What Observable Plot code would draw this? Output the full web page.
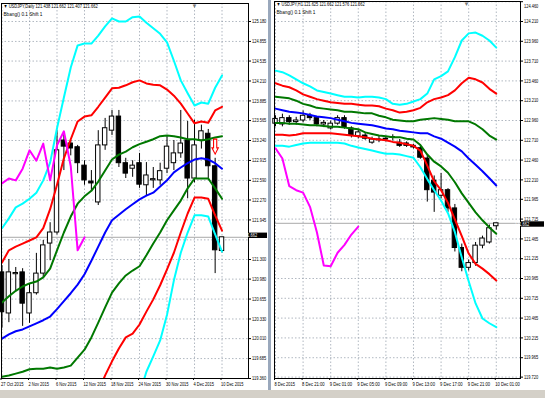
<!DOCTYPE html>
<html><head><meta charset="utf-8">
<script src="https://cdn.jsdelivr.net/npm/d3@7"></script>
<script src="https://cdn.jsdelivr.net/npm/@observablehq/plot@0.6"></script>
<style>
body{margin:0;background:#d4d0c8;}
#wrap{position:relative;width:545px;height:398px;overflow:hidden;background:#d4d0c8;}
#left{position:absolute;left:0;top:0;}
#right{position:absolute;left:271px;top:0;}
#sep{position:absolute;left:268px;top:0;width:3px;height:390px;background:#9aa8bc;}
svg{display:block;}
</style></head><body>
<div id="wrap"><div id="left"></div><div id="sep"></div><div id="right"></div></div>
<script>
// ---------------- DAILY (left) ----------------
const dHeader = "▼ USDJPY,Daily 121.438 121.662 121.407 121.662";
const dSub = "Bbang() 0.1 Shift 1";
const dDateIdx = [0,4,8,12,16,20,24,28,32];
const dDateLabels = ["27 Oct 2015","2 Nov 2015","6 Nov 2015","12 Nov 2015","18 Nov 2015","24 Nov 2015","30 Nov 2015","4 Dec 2015","10 Dec 2015"];
const dTicks = [125.180,124.855,124.535,124.210,123.885,123.565,123.240,122.915,122.590,122.270,121.945,121.620,121.300,120.980,120.655,120.330,120.010,119.685,119.360];
const dHiddenLabels = [121.620];
const dOpen  = [121.09,120.42,121.06,121.09,120.42,120.75,121.07,121.56,121.74,123.24,123.19,123.13,122.83,122.57,122.23,123.16,123.40,123.63,122.87,122.78,122.87,122.51,122.59,122.59,122.78,122.87,123.03,123.24,122.62,123.24,123.35,122.82,121.438];
const dHigh  = [121.20,121.30,121.17,121.15,120.91,121.40,121.61,121.90,123.40,123.37,123.24,123.16,122.91,122.75,123.40,123.60,123.73,123.73,122.95,122.91,123.03,122.88,122.80,122.87,123.30,123.24,123.73,123.55,123.57,123.49,123.42,122.95,121.662];
const dLow   = [120.18,120.27,120.79,120.21,120.26,120.72,121.00,121.28,121.70,122.75,122.99,122.70,122.51,122.42,122.18,123.08,123.32,122.80,122.62,122.64,122.46,122.34,122.46,122.51,122.70,122.75,122.95,122.29,122.55,123.10,122.60,121.07,121.407];
const dClose = [120.44,121.09,121.08,120.58,120.75,121.07,121.53,121.74,123.08,123.14,123.11,122.87,122.59,122.54,123.16,123.44,123.63,122.87,122.70,122.83,122.52,122.67,122.61,122.74,123.14,123.03,123.19,122.62,123.16,123.39,122.82,121.45,121.662];
const dUp3 = [121.81,121.97,122.15,122.21,122.29,122.39,122.59,122.88,123.44,123.94,124.43,124.79,124.82,124.82,124.95,125.10,125.23,125.18,125.18,125.25,125.26,125.16,125.07,124.98,124.84,124.54,124.22,124.01,123.81,123.86,123.84,124.10,124.30];
const dUp2 = [121.25,121.45,121.51,121.56,121.61,121.66,121.81,122.12,122.52,122.95,123.26,123.55,123.63,123.65,123.79,123.94,124.09,124.10,124.14,124.19,124.22,124.17,124.15,124.14,124.07,123.97,123.84,123.68,123.52,123.55,123.53,123.73,123.79];
const dUp1 = [120.60,120.70,120.79,120.86,120.91,120.94,121.01,121.15,121.45,121.74,122.00,122.21,122.33,122.42,122.57,122.75,122.93,123.01,123.06,123.13,123.18,123.22,123.26,123.31,123.32,123.31,123.29,123.26,123.26,123.24,123.26,123.29,123.31];
const dMid = [120.01,120.08,120.13,120.16,120.21,120.26,120.31,120.37,120.49,120.62,120.75,120.89,121.06,121.28,121.51,121.74,121.94,122.03,122.12,122.20,122.28,122.34,122.39,122.49,122.59,122.72,122.80,122.87,122.93,122.95,122.93,122.87,122.78];
const dLo1 = [119.39,119.41,119.44,119.47,119.51,119.52,119.52,119.54,119.52,119.54,119.57,119.70,119.83,120.03,120.27,120.52,120.76,120.91,121.04,121.12,121.19,121.37,121.56,121.74,121.94,122.10,122.26,122.46,122.62,122.62,122.62,122.46,122.29];
const dLo2 = [null,null,null,null,null,null,null,null,null,null,null,null,null,null,119.15,119.41,119.64,119.85,120.03,120.09,120.24,120.45,120.65,120.88,121.14,121.41,121.74,122.05,122.31,122.31,122.29,122.02,121.77];
const dLo3 = [null,null,null,null,null,null,null,null,null,null,null,null,null,null,null,null,null,null,null,null,119.10,119.47,119.72,119.98,120.40,120.96,121.41,121.74,122.02,122.02,122.00,121.71,121.43];
const dLag = [122.54,122.62,122.59,122.78,123.08,122.91,123.19,122.59,123.16,123.39,122.82,121.45,121.66];
const dSignal = {i: 31, v: 123.14};

// ---------------- H1 (right) ----------------
const hHeader = "▼ USDJPY,H1 121.625 121.662 121.576 121.662";
const hSub = "Bbang() 0.1 Shift 1";
const hDateIdx = [0,4,8,12,16,20,24,28,32];
const hDateLabels = ["8 Dec 2015","8 Dec 21:00","9 Dec 01:00","9 Dec 05:00","9 Dec 09:00","9 Dec 13:00","9 Dec 17:00","9 Dec 21:00","10 Dec 01:00"];
const hTicks = [124.460,124.210,123.960,123.710,123.460,123.210,122.960,122.710,122.460,122.210,121.965,121.715,121.465,121.215,120.965,120.715,120.465,120.215,119.965,119.720];
const hHiddenLabels = [];
const hOpen  = [122.92,122.91,122.99,122.94,122.96,123.02,122.99,122.91,122.86,122.92,122.99,122.86,122.76,122.77,122.68,122.71,122.72,122.74,122.68,122.67,122.64,122.61,122.48,122.20,122.01,122.08,121.85,121.35,121.10,121.16,121.38,121.42,121.625];
const hHigh  = [123.02,123.04,123.02,123.00,123.08,123.05,123.01,122.96,122.95,123.02,123.02,122.88,122.84,122.81,122.75,122.76,122.75,122.78,122.72,122.69,122.66,122.64,122.52,122.26,122.29,122.10,121.90,121.40,121.20,121.42,121.50,121.64,121.662];
const hLow   = [122.88,122.88,122.90,122.90,122.93,122.96,122.88,122.87,122.84,122.90,122.85,122.74,122.73,122.71,122.66,122.68,122.69,122.70,122.62,122.62,122.60,122.47,121.93,121.80,121.97,121.80,121.30,121.05,121.06,121.12,121.34,121.40,121.576];
const hClose = [122.98,122.99,122.94,122.96,123.02,122.99,122.91,122.93,122.92,122.99,122.87,122.77,122.81,122.73,122.72,122.72,122.73,122.75,122.64,122.64,122.62,122.49,122.08,122.05,122.08,121.85,121.35,121.10,121.16,121.38,121.47,121.60,121.662];
const hUp3 = [123.59,123.57,123.53,123.48,123.43,123.39,123.34,123.32,123.30,123.28,123.26,123.26,123.25,123.26,123.26,123.25,123.23,123.17,123.16,123.17,123.20,123.23,123.30,123.48,123.52,123.58,123.76,123.97,124.06,124.07,124.03,123.97,123.88];
const hUp2 = [123.43,123.40,123.38,123.34,123.29,123.26,123.23,123.21,123.19,123.18,123.17,123.17,123.16,123.15,123.15,123.14,123.11,123.09,123.06,123.07,123.09,123.12,123.19,123.23,123.25,123.28,123.34,123.43,123.50,123.48,123.44,123.36,123.30];
const hUp1 = [123.26,123.25,123.24,123.21,123.17,123.15,123.12,123.11,123.10,123.09,123.07,123.07,123.06,123.05,123.05,123.02,123.00,122.97,122.96,122.95,122.95,122.97,122.98,122.99,122.98,122.97,122.95,122.95,122.95,122.91,122.85,122.77,122.72];
const hMid = [123.11,123.09,123.07,123.06,123.05,123.03,123.01,123.00,122.99,122.97,122.95,122.93,122.92,122.91,122.90,122.88,122.86,122.85,122.83,122.82,122.81,122.80,122.80,122.76,122.73,122.68,122.63,122.57,122.48,122.40,122.32,122.23,122.14];
const hLo1 = [122.93,122.93,122.92,122.92,122.91,122.90,122.90,122.89,122.88,122.88,122.87,122.86,122.85,122.81,122.79,122.77,122.76,122.75,122.75,122.73,122.72,122.65,122.53,122.44,122.38,122.30,122.18,122.04,121.92,121.80,121.70,121.61,121.53];
const hLo2 = [122.78,122.78,122.77,122.78,122.80,122.80,122.80,122.80,122.80,122.79,122.78,122.77,122.76,122.75,122.73,122.72,122.71,122.69,122.68,122.66,122.64,122.58,122.39,122.19,122.08,121.92,121.71,121.50,121.28,121.15,121.09,121.02,120.94];
const hLo3 = [122.64,122.64,122.63,122.65,122.67,122.68,122.68,122.68,122.68,122.68,122.67,122.64,122.62,122.60,122.58,122.56,122.54,122.54,122.53,122.51,122.49,122.37,122.22,122.08,121.95,121.79,121.55,121.23,120.93,120.65,120.46,120.40,120.35];
const hLag = [122.61,122.48,122.13,122.08,122.05,121.87,121.55,121.13,121.12,121.29,121.39,121.52,121.62];

// ---------------- drawing ----------------
const FONT = "Liberation Sans, Arial, sans-serif";
const FS = 5.3;        // font size of all small texts
const CHW = 2.05;      // condensed advance per character (px)
const C = {cyan:"#00ffff", red:"#ff0000", green:"#007800", blue:"#0000ff", mag:"#ff00ff", grid:"#8f9aa6"};

function series(arr){ return arr.map((v,i)=>({i, v})); }
function candles(o,h,l,c){ return o.map((_,i)=>({i, o:o[i], h:h[i], l:l[i], c:c[i]})); }

const arrowSymbol = {
  draw(ctx){
    ctx.moveTo(-1.6,-7.5); ctx.lineTo(1.6,-7.5); ctx.lineTo(1.6,1.2); ctx.lineTo(3.2,1.2);
    ctx.lineTo(0,7.5); ctx.lineTo(-3.2,1.2); ctx.lineTo(-1.6,1.2); ctx.closePath();
  }
};

function panel(cfg){
  const rows = candles(cfg.o, cfg.h, cfg.l, cfg.c);
  const bands = [
    [cfg.up3, C.cyan],[cfg.up2, C.red],[cfg.up1, C.green],[cfg.mid, C.blue],
    [cfg.lo1, C.green],[cfg.lo2, C.red],[cfg.lo3, C.cyan]
  ];
  const last = cfg.c[cfg.c.length-1];
  const labelTicks = cfg.ticks.filter(t => !cfg.hidden.includes(t));
  const marks = [
    Plot.ruleY(cfg.ticks, {stroke: C.grid, strokeWidth: 0.7, strokeDasharray: "1.5,2"}),
    Plot.ruleX(cfg.dateIdx, {stroke: C.grid, strokeWidth: 0.7, strokeDasharray: "1.5,2"}),
    Plot.ruleY([last], {stroke: "#a9a9a9", strokeWidth: 1}),
    Plot.ruleX(rows, {x: "i", y1: "l", y2: "h", stroke: "#000", strokeWidth: 1}),
    Plot.rect(rows, {x1: d => d.i - 0.32, x2: d => d.i + 0.32, y1: "o", y2: "c",
      fill: d => d.c >= d.o ? "#fff" : "#000", stroke: "#000", strokeWidth: 1}),
    ...bands.map(([arr, col]) => Plot.line(series(arr), {x: "i", y: "v", stroke: col, strokeWidth: 2, clip: true})),
    Plot.line(series(cfg.lag), {x: "i", y: "v", stroke: C.mag, strokeWidth: 2, clip: true}),
    Plot.text([cfg.header], {text: d => d, frameAnchor: "top-left", dx: 2, dy: 1, fontSize: FS, textAnchor: "start", lineAnchor: "top", fill: "#000"}),
    Plot.text([cfg.sub], {text: d => d, frameAnchor: "top-left", dx: 2, dy: 8.5, fontSize: FS, textAnchor: "start", lineAnchor: "top", fill: "#000"}),
    Plot.text(["▼"], {text: d => d, frameAnchor: "top-right", dx: -51, dy: 0, fontSize: 6, lineAnchor: "top", fill: "#7a7a7a"}),
    Plot.axisY({ticks: labelTicks, anchor: "right", tickSize: 2, tickPadding: 1.5, fontSize: FS, tickFormat: d => d.toFixed(3), label: null}),
    Plot.axisX({ticks: cfg.dateIdx, anchor: "bottom", tickSize: 2, tickPadding: 2, fontSize: FS, textAnchor: "start", dx: -1,
      tickFormat: d => cfg.dateLabels[cfg.dateIdx.indexOf(d)], label: null}),
    Plot.frame({stroke: "#000", strokeWidth: 1})
  ];
  if (cfg.signal) marks.push(Plot.dot([cfg.signal], {x: "i", y: "v", symbol: arrowSymbol, r: 4, stroke: C.red, fill: "#fff", strokeWidth: 1.1}));
  const chart = Plot.plot({
    width: cfg.width, height: 390,
    marginLeft: cfg.ml, marginRight: cfg.mr, marginTop: cfg.mt, marginBottom: 12,
    x: {domain: cfg.xd, axis: null},
    y: {domain: cfg.yd, axis: null},
    style: {background: "#fff", fontFamily: FONT, overflow: "visible", color: "#000"},
    marks
  });
  const svg = d3.select(chart);
  // condense every multi-character label to the narrow terminal-font width
  svg.selectAll("text").each(function(){
    const s = this.textContent;
    if (s.length > 1) { this.setAttribute("textLength", (s.length * CHW).toFixed(1)); this.setAttribute("lengthAdjust", "spacingAndGlyphs"); }
    if (s === cfg.topLabel) this.setAttribute("dy", "0.8em");
  });
  // price label box on the axis, positioned with the chart's own y scale
  const yy = chart.scale("y").apply(last) + cfg.boxShift;
  const xr = cfg.width - cfg.mr;
  const g = svg.append("g");
  g.append("rect").attr("x", xr + 1).attr("y", yy - 2.7).attr("width", cfg.mr - 2).attr("height", 5.4).attr("fill", "#000");
  const t = (last.toFixed(3));
  g.append("text").attr("x", xr + 2).attr("y", yy).attr("dy", "0.34em").attr("fill", "#fff")
    .attr("font-size", FS).attr("font-family", FONT).attr("textLength", (t.length * CHW).toFixed(1))
    .attr("lengthAdjust", "spacingAndGlyphs").text(t);
  return chart;
}

const left = panel({
  width: 268, ml: 1, mr: 20, mt: 3, boxShift: -1.5, topLabel: null,
  xd: [-0.073, 35.85], yd: [119.36, 125.4734],
  o: dOpen, h: dHigh, l: dLow, c: dClose,
  up3: dUp3, up2: dUp2, up1: dUp1, mid: dMid, lo1: dLo1, lo2: dLo2, lo3: dLo3, lag: dLag,
  ticks: dTicks, hidden: dHiddenLabels, dateIdx: dDateIdx, dateLabels: dDateLabels, header: dHeader, sub: dSub, signal: dSignal
});
document.getElementById("left").append(left);

const right = panel({
  width: 274, ml: 3, mr: 25, mt: 1, boxShift: 1.2, topLabel: "124.460",
  xd: [-0.145, 35.51], yd: [119.7025, 124.4625],
  o: hOpen, h: hHigh, l: hLow, c: hClose,
  up3: hUp3, up2: hUp2, up1: hUp1, mid: hMid, lo1: hLo1, lo2: hLo2, lo3: hLo3, lag: hLag,
  ticks: hTicks, hidden: hHiddenLabels, dateIdx: hDateIdx, dateLabels: hDateLabels, header: hHeader, sub: hSub, signal: null
});
document.getElementById("right").append(right);
</script>
</body></html>
